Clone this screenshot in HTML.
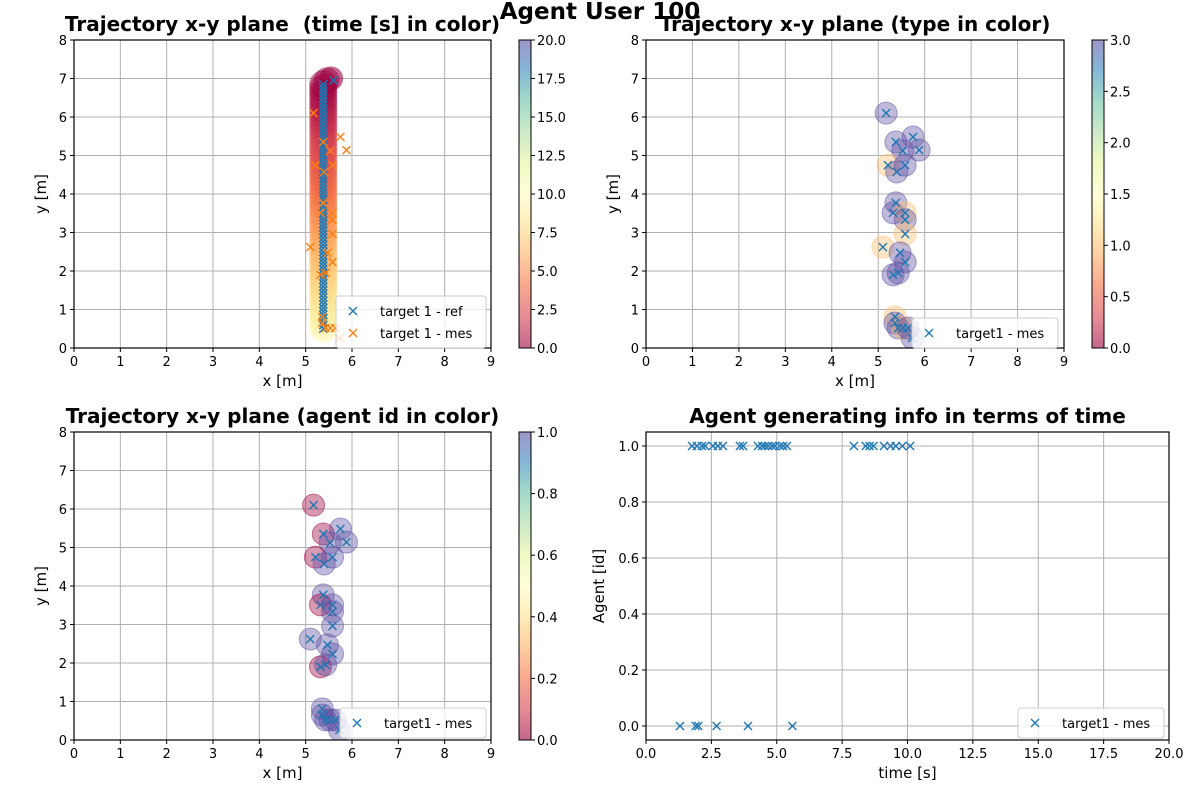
<!DOCTYPE html>
<html><head><meta charset="utf-8">
<style>
body{margin:0;background:#fff;}
svg{font-family:"DejaVu Sans","Liberation Sans",sans-serif;}
</style></head>
<body>
<svg id="fig" width="1200" height="800" xmlns="http://www.w3.org/2000/svg">
<defs>
<linearGradient id="spec" x1="0" y1="1" x2="0" y2="0">
<stop offset="0" stop-color="#9e0142"/><stop offset="0.1" stop-color="#d53e4f"/><stop offset="0.2" stop-color="#f46d43"/><stop offset="0.3" stop-color="#fdae61"/><stop offset="0.4" stop-color="#fee08b"/><stop offset="0.5" stop-color="#ffffbf"/><stop offset="0.6" stop-color="#e6f598"/><stop offset="0.7" stop-color="#abdda4"/><stop offset="0.8" stop-color="#66c2a5"/><stop offset="0.9" stop-color="#3288bd"/><stop offset="1" stop-color="#5e4fa2"/>
</linearGradient>
</defs>
<text x="600" y="19" text-anchor="middle" font-size="23" font-weight="bold">Agent User 100</text>
</svg>
<script>
// measurement data (shared by xy panels)
const measX=[5.17,5.38,5.75,5.53,5.88,5.21,5.40,5.58,5.38,5.32,5.58,5.58,5.58,5.10,5.47,5.58,5.32,5.43,5.36,5.36,5.43,5.53,5.64,5.73];
const measY=[6.10,5.35,5.48,5.12,5.14,4.75,4.57,4.75,3.77,3.51,3.51,3.33,2.96,2.62,2.47,2.23,1.90,1.95,0.81,0.65,0.52,0.52,0.52,0.26];
const measType=[3,3,3,3,3,1,3,3,3,3,1,3,1,1,3,3,3,3,1,3,3,1,3,3];
const measAgent=[0,0,1,1,1,0,1,1,1,0,1,1,1,1,1,1,0,1,1,1,1,1,1,1];
const refYStart=0.5, refYEnd=6.85, refX=5.38;
const timeAgent1=[1.76,1.95,2.14,2.26,2.56,2.75,2.94,3.59,3.71,4.28,4.44,4.55,4.67,4.82,4.93,5.12,5.24,5.39,7.95,8.4,8.55,8.7,9.1,9.35,9.55,9.8,10.1];
const timeAgent0=[1.3,1.9,2.0,2.7,3.9,5.6];
const xyTicksX=[0,1,2,3,4,5,6,7,8,9];
const xyTicksY=[0,1,2,3,4,5,6,7,8];

const svg=document.getElementById('fig');
const NS='http://www.w3.org/2000/svg';
function mk(tag,a,parent){const e=document.createElementNS(NS,tag);for(const k in a)e.setAttribute(k,a[k]);(parent||svg).appendChild(e);return e;}
function txt(s,a,parent){const e=mk('text',a,parent);e.textContent=s;return e;}
const spec=['#9e0142','#d53e4f','#f46d43','#fdae61','#fee08b','#ffffbf','#e6f598','#abdda4','#66c2a5','#3288bd','#5e4fa2'];
function hex(h){return [1,3,5].map(i=>parseInt(h.substr(i,2),16));}
function cmap(t){t=Math.max(0,Math.min(1,t));const f=t*10,i=Math.min(9,Math.floor(f)),r=f-i;const a=hex(spec[i]),b=hex(spec[i+1]);return 'rgb('+a.map((v,k)=>Math.round(v+(b[k]-v)*r)).join(',')+')';}
function cross(g,cx,cy,col,name){const p=mk('path',{d:`M${cx-4},${cy-4}L${cx+4},${cy+4}M${cx-4},${cy+4}L${cx+4},${cy-4}`,stroke:col,'stroke-width':1.4,fill:'none'},g);

}

function axes(L,T,R,B,xmin,xmax,ymin,ymax,xt,yt,xlab,ylab,title,xfmt,yfmt,name){
  const g=mk('g',{});
  
  
  const sx=v=>L+(v-xmin)/(xmax-xmin)*(R-L), sy=v=>B-(v-ymin)/(ymax-ymin)*(B-T);
  xt.forEach(v=>{mk('line',{x1:sx(v),x2:sx(v),y1:T,y2:B,stroke:'#b0b0b0','stroke-width':1},g);mk('line',{x1:sx(v),x2:sx(v),y1:B,y2:B+4,stroke:'#000'},g);
    const t=txt(xfmt(v),{x:sx(v),y:B+18,'text-anchor':'middle','font-size':13},g);});
  yt.forEach(v=>{mk('line',{x1:L-4,x2:R,y1:sy(v),y2:sy(v),stroke:'#b0b0b0','stroke-width':1},g);mk('line',{x1:L-4,x2:L,y1:sy(v),y2:sy(v),stroke:'#000'},g);
    const t=txt(yfmt(v),{x:L-7,y:sy(v)+5,'text-anchor':'end','font-size':13},g);});
  const xl=txt(xlab,{x:(L+R)/2,y:B+38,'text-anchor':'middle','font-size':15},g);
  const yx=yfmt===fmt1?L-42:L-28;
  const yl=txt(ylab,{x:yx,y:(T+B)/2,'text-anchor':'middle','font-size':15,transform:`rotate(-90 ${yx} ${(T+B)/2})`},g);
  const tt=txt(title,{x:(L+R)/2,y:T-9,'text-anchor':'middle','font-size':20,'font-weight':'bold'},g);
  const clip='c'+name;const cp=mk('clipPath',{id:clip},g);mk('rect',{x:L,y:T,width:R-L,height:B-T},cp);
  const plot=mk('g',{'clip-path':`url(#${clip})`},g);
  return {g,plot,sx,sy,finish:()=>mk('rect',{x:L,y:T,width:R-L,height:B-T,fill:'none',stroke:'#000','stroke-width':1.2},g)};
}
const fmt0=v=>String(v), fmt1=v=>v.toFixed(1);

function colorbar(x,T,B,ticks,vmax,name){
  const g=mk('g',{});
  
  
  mk('rect',{x:x,y:T,width:12,height:B-T,fill:'url(#spec)','fill-opacity':0.6,stroke:'#000','stroke-width':1},g);
  ticks.forEach(v=>{const y=B-v/vmax*(B-T);mk('line',{x1:x+12,x2:x+16,y1:y,y2:y,stroke:'#000'},g);txt(v.toFixed(1),{x:x+18,y:y+5,'font-size':13},g);});
}
function legend(g,x,y,w,entries){
  const h=8+entries.length*22;
  mk('rect',{x:x,y:y,width:w,height:h,rx:3,fill:'#fff','fill-opacity':0.8,stroke:'#ccc'},g);
  entries.forEach((e,i)=>{cross(g,x+17,y+15+i*22,e[1],'legend-marker');const t=txt(e[0],{x:x+44,y:y+20+i*22,'font-size':13},g);});
}

// Panel 1
let A=axes(74,40,491,348,0,9,0,8,xyTicksX,xyTicksY,'x [m]','y [m]','Trajectory x-y plane\u00a0\u00a0(time [s] in color)',fmt0,fmt0,'panel-time');
for(let i=0;i<=60;i++){const y=refYStart+(refYEnd-refYStart)*i/60;mk('circle',{cx:A.sx(refX),cy:A.sy(y),r:14,fill:cmap((9.5-9.5*i/60)/20),'fill-opacity':0.5},A.plot);}
mk('circle',{cx:A.sx(5.55),cy:A.sy(7.0),r:12,fill:cmap(0),'fill-opacity':0.6},A.plot);
mk('circle',{cx:A.sx(5.45),cy:A.sy(6.95),r:13,fill:cmap(0),'fill-opacity':0.5},A.plot);
for(let i=0;i<=70;i++){const y=refYStart+(refYEnd-refYStart)*i/70;cross(A.plot,A.sx(refX),A.sy(y),'#1f77b4','ref-point');}
cross(A.plot,A.sx(5.6),A.sy(6.95),'#1f77b4','ref-point');
measX.forEach((x,i)=>cross(A.plot,A.sx(x),A.sy(measY[i]),'#ff7f0e','mes-point'));
A.finish();legend(A.g,336,296,150,[['target 1 - ref','#1f77b4'],['target 1 - mes','#ff7f0e']]);
colorbar(519,40,348,[0,2.5,5,7.5,10,12.5,15,17.5,20],20,'colorbar-time');

// Panel 2
A=axes(646,40,1064,348,0,9,0,8,xyTicksX,xyTicksY,'x [m]','y [m]','Trajectory x-y plane (type in color)',fmt0,fmt0,'panel-type');
measX.forEach((x,i)=>mk('circle',{cx:A.sx(x),cy:A.sy(measY[i]),r:11,fill:cmap(measType[i]/3),'fill-opacity':0.4,stroke:cmap(measType[i]/3),'stroke-opacity':0.5},A.plot));
measX.forEach((x,i)=>cross(A.plot,A.sx(x),A.sy(measY[i]),'#1f77b4','mes-point'));
A.finish();legend(A.g,912,318,146,[['target1 - mes','#1f77b4']]);
colorbar(1092,40,348,[0,0.5,1,1.5,2,2.5,3],3,'colorbar-type');

// Panel 3
A=axes(74,432,491,740,0,9,0,8,xyTicksX,xyTicksY,'x [m]','y [m]','Trajectory x-y plane (agent id in color)',fmt0,fmt0,'panel-agent');
measX.forEach((x,i)=>mk('circle',{cx:A.sx(x),cy:A.sy(measY[i]),r:11,fill:cmap(measAgent[i]),'fill-opacity':0.4,stroke:cmap(measAgent[i]),'stroke-opacity':0.5},A.plot));
measX.forEach((x,i)=>cross(A.plot,A.sx(x),A.sy(measY[i]),'#1f77b4','mes-point'));
A.finish();legend(A.g,340,708,146,[['target1 - mes','#1f77b4']]);
colorbar(519,432,740,[0,0.2,0.4,0.6,0.8,1],1,'colorbar-agent');

// Panel 4
A=axes(646,432,1169,740,0,20,-0.05,1.05,[0,2.5,5,7.5,10,12.5,15,17.5,20],[0,0.2,0.4,0.6,0.8,1],'time [s]','Agent [id]','Agent generating info in terms of time',fmt1,fmt1,'panel-time-agent');
timeAgent1.forEach(t=>cross(A.plot,A.sx(t),A.sy(1),'#1f77b4','agent1-point'));
timeAgent0.forEach(t=>cross(A.plot,A.sx(t),A.sy(0),'#1f77b4','agent0-point'));
A.finish();legend(A.g,1018,708,146,[['target1 - mes','#1f77b4']]);
</script>
</body></html>
